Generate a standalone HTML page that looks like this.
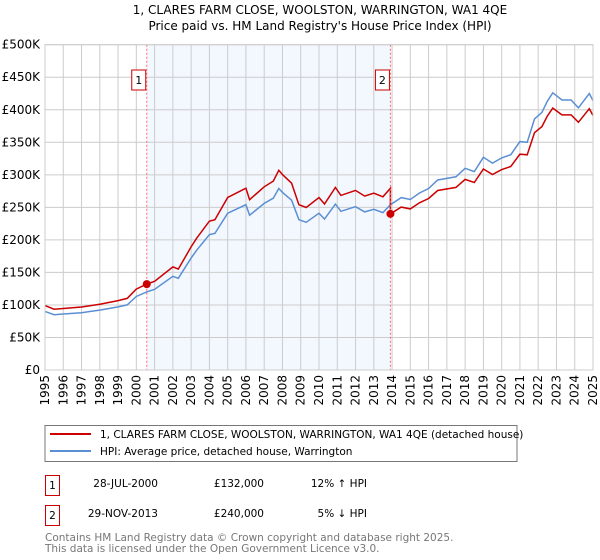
<!DOCTYPE html>
<html><head><meta charset="utf-8"><style>
body{margin:0;background:#fff;}
svg{display:block;font-family:"DejaVu Sans","Liberation Sans",sans-serif;}
</style></head><body>
<svg id="c" width="600" height="560" xmlns="http://www.w3.org/2000/svg">
<text x="320" y="14" font-size="12" text-anchor="middle">1, CLARES FARM CLOSE, WOOLSTON, WARRINGTON, WA1 4QE</text>
<text x="320" y="30" font-size="12" text-anchor="middle">Price paid vs. HM Land Registry's House Price Index (HPI)</text>
<g id="plot"></g>
<rect x="45" y="425.5" width="472" height="36" fill="#fff" stroke="#777"/>
<line x1="50" y1="434" x2="91" y2="434" stroke="#cc0000" stroke-width="2"/>
<text x="100" y="438" font-size="10.5">1, CLARES FARM CLOSE, WOOLSTON, WARRINGTON, WA1 4QE (detached house)</text>
<line x1="50" y1="451" x2="91" y2="451" stroke="#5b8fd4" stroke-width="2"/>
<text x="100" y="455" font-size="10.5">HPI: Average price, detached house, Warrington</text>
<g font-size="10.5">
<rect x="45.5" y="475.5" width="14" height="20" fill="none" stroke="#cc0000"/>
<text x="52.5" y="489" text-anchor="middle">1</text>
<text x="158" y="487" text-anchor="end">28-JUL-2000</text>
<text x="264" y="487" text-anchor="end">£132,000</text>
<text x="367" y="487" text-anchor="end">12% ↑ HPI</text>
<rect x="45.5" y="505.5" width="14" height="20" fill="none" stroke="#cc0000"/>
<text x="52.5" y="519" text-anchor="middle">2</text>
<text x="158" y="517" text-anchor="end">29-NOV-2013</text>
<text x="264" y="517" text-anchor="end">£240,000</text>
<text x="367" y="517" text-anchor="end">5% ↓ HPI</text>
</g>
<text x="45" y="541" font-size="10.5" fill="#777">Contains HM Land Registry data © Crown copyright and database right 2025.</text>
<text x="45" y="552" font-size="10.5" fill="#777">This data is licensed under the Open Government Licence v3.0.</text>
</svg>
<script>
const hpiYears=[1995,1995.5,1996,1997,1997.5,1998,1999,1999.5,2000,2000.57,2001,2002,2002.3,2003,2003.3,2004,2004.3,2005,2006,2006.2,2007,2007.5,2007.8,2008,2008.5,2008.9,2009.3,2010,2010.3,2010.9,2011.2,2012,2012.5,2013,2013.5,2013.91,2014.5,2015,2015.5,2016,2016.5,2017.5,2018,2018.5,2019,2019.5,2020,2020.5,2021,2021.4,2021.8,2022.2,2022.5,2022.8,2023.3,2023.8,2024.2,2024.8,2025];
const hpiValues=[90,85,86,88,90,92,97,100,113,120,124,144,141,172,184,208,210,241,254,238,256,264,279,273,261,231,227,241,232,255,244,251,243,247,242,254,265,262,272,279,292,297,310,305,327,318,326,331,351,350,386,396,413,426,415,415,403,425,414];
const saleYears=[2000.57,2013.91];
const salePrices=[132,240];
const yTicks=[0,50,100,150,200,250,300,350,400,450,500];
const yTickLabels=["£0","£50K","£100K","£150K","£200K","£250K","£300K","£350K","£400K","£450K","£500K"];
const xTicks=[1995,1996,1997,1998,1999,2000,2001,2002,2003,2004,2005,2006,2007,2008,2009,2010,2011,2012,2013,2014,2015,2016,2017,2018,2019,2020,2021,2022,2023,2024,2025];

const NS="http://www.w3.org/2000/svg";
const X0=45,X1=593,Y0=370,Y1=44.7;
const sx=y=>X0+(y-1995)/30*(X1-X0);
const sy=v=>Y0-v/500*(Y0-Y1);
const g=document.getElementById('plot');
function mk(t,a){const e=document.createElementNS(NS,t);for(const k in a)e.setAttribute(k,a[k]);g.appendChild(e);return e;}
function hpiAt(t){for(let i=1;i<hpiYears.length;i++){if(t<=hpiYears[i]){const f=(t-hpiYears[i-1])/(hpiYears[i]-hpiYears[i-1]);return hpiValues[i-1]+f*(hpiValues[i]-hpiValues[i-1]);}}return hpiValues[hpiValues.length-1];}

let e=mk('rect',{x:sx(saleYears[0]),y:Y1,width:sx(saleYears[1])-sx(saleYears[0]),height:Y0-Y1,fill:'#eef3fd',opacity:0.7});


yTicks.forEach((v,i)=>{
 let l=mk('line',{x1:X0,x2:X1,y1:sy(v),y2:sy(v),stroke:'#ccc'});
 
 
 let t=mk('text',{x:40,y:sy(v)+4,'font-size':12,'text-anchor':'end'});t.textContent=yTickLabels[i];
 
 
});
xTicks.forEach(y=>{
 let l=mk('line',{x1:sx(y),x2:sx(y),y1:Y1,y2:Y0,stroke:'#ccc'});
 
 
 let t=mk('text',{x:0,y:0,'font-size':12,'text-anchor':'end',transform:`translate(${sx(y)+4},${Y0+5}) rotate(-90)`});t.textContent=y;
 
 
});
// HPI line
let hp=hpiYears.map((y,i)=>sx(y).toFixed(1)+','+sy(hpiValues[i]).toFixed(1)).join(' ');
e=mk('polyline',{points:hp,fill:'none',stroke:'#5b8fd4','stroke-width':1.5});


// property line: HPI scaled from each sale
const r1=salePrices[0]/hpiAt(saleYears[0]),r2=salePrices[1]/hpiAt(saleYears[1]);
let pts=[];
hpiYears.forEach((y,i)=>{
 if(y<saleYears[1]) pts.push([y,hpiValues[i]*r1]);
 else { if(y===saleYears[1]) pts.push([y,hpiAt(y)*r1]); pts.push([y,hpiValues[i]*r2]); }
});
e=mk('polyline',{points:pts.map(p=>sx(p[0]).toFixed(1)+','+sy(p[1]).toFixed(1)).join(' '),fill:'none',stroke:'#cc0000','stroke-width':1.5});


saleYears.forEach((y,i)=>{
 let l=mk('line',{x1:sx(y),x2:sx(y),y1:Y1,y2:Y0,stroke:'#ff6666','stroke-dasharray':'2,2'});
 
 
 let c=mk('circle',{cx:sx(y),cy:sy(salePrices[i]),r:4,fill:'#cc0000'});
 
 
 let b=mk('rect',{x:sx(y)-15,y:70,width:14,height:20,fill:'#fff',stroke:'#cc0000'});
 
 
 let t=mk('text',{x:sx(y)-8,y:84,'font-size':11,'text-anchor':'middle'});t.textContent=i+1;
 
 
});
e=mk('rect',{x:X0,y:Y1,width:X1-X0,height:Y0-Y1,fill:'none',stroke:'#ccc'});


</script>
</body></html>
